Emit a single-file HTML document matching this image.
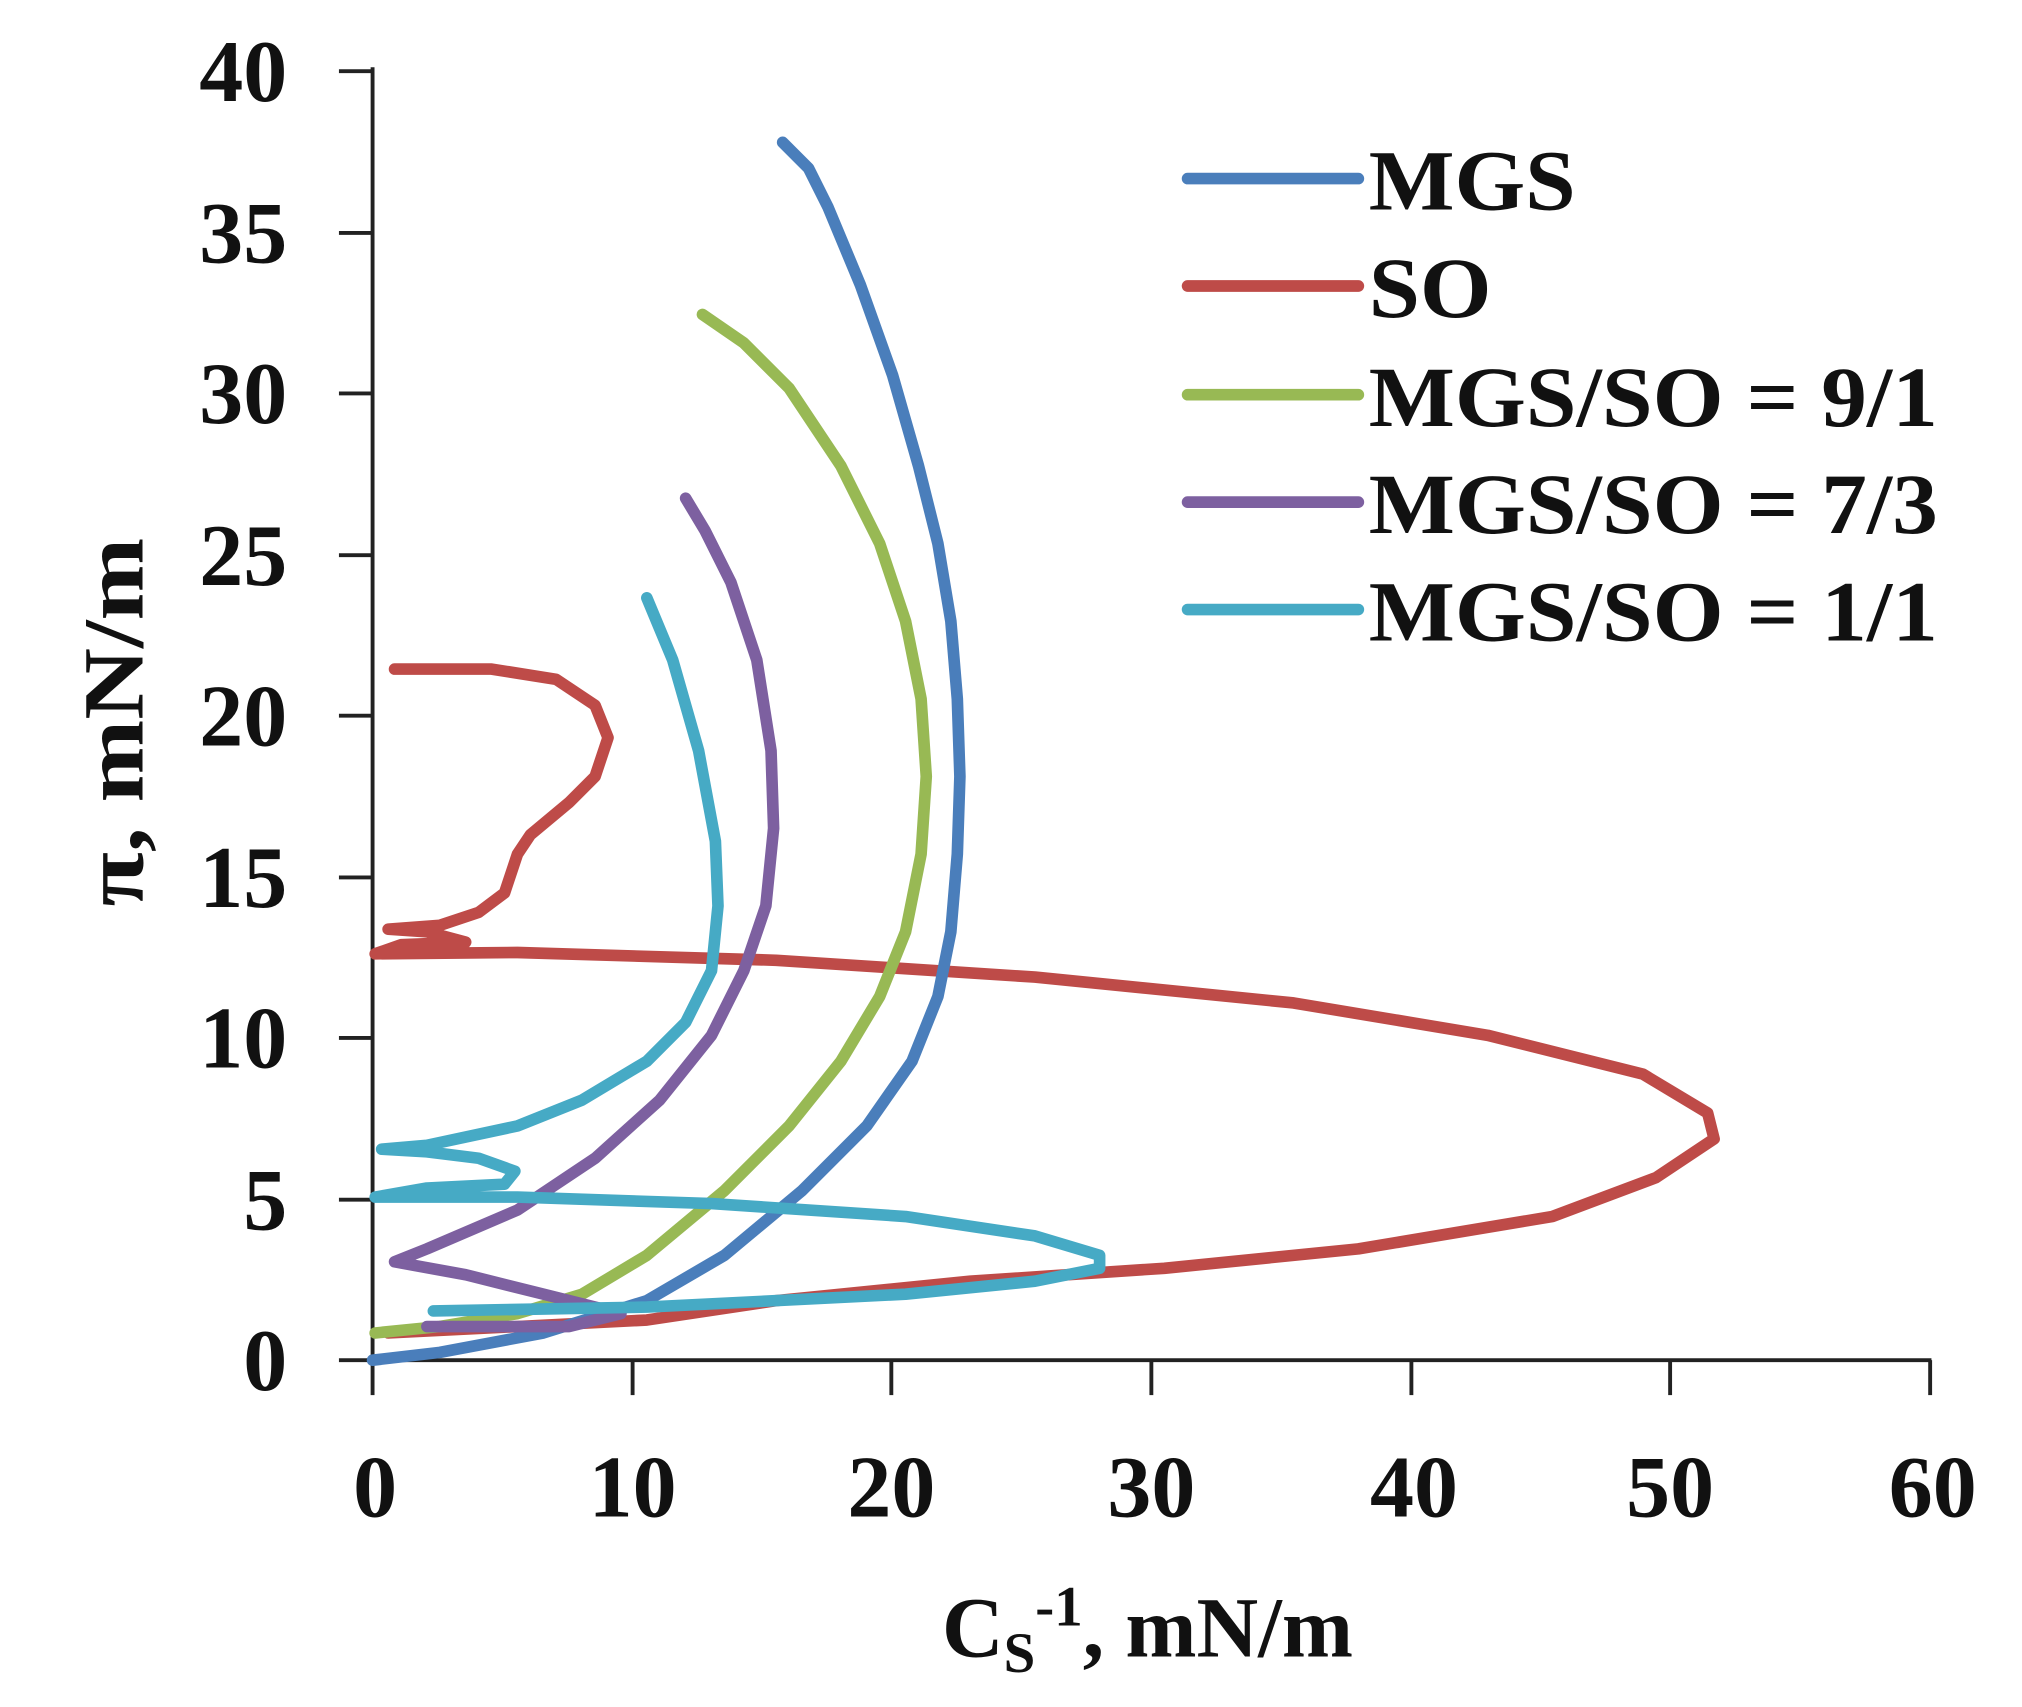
<!DOCTYPE html>
<html><head><style>html,body{margin:0;padding:0;background:#fff}svg{display:block}</style></head>
<body>
<svg width="2022" height="1707" viewBox="0 0 1563 1319" preserveAspectRatio="none" xmlns="http://www.w3.org/2000/svg" font-family="Liberation Serif, serif" font-weight="bold">
<g stroke="#222" stroke-width="3" fill="none">
<line x1="288" y1="52" x2="288" y2="1052"/>
<line x1="286" y1="1051" x2="1493" y2="1051"/>
<line x1="262" y1="55" x2="288" y2="55"/><line x1="262" y1="180" x2="288" y2="180"/><line x1="262" y1="304" x2="288" y2="304"/><line x1="262" y1="429" x2="288" y2="429"/><line x1="262" y1="553" x2="288" y2="553"/><line x1="262" y1="678" x2="288" y2="678"/><line x1="262" y1="802" x2="288" y2="802"/><line x1="262" y1="927" x2="288" y2="927"/><line x1="262" y1="1051" x2="288" y2="1051"/>
<line x1="288" y1="1051" x2="288" y2="1078"/><line x1="489" y1="1051" x2="489" y2="1078"/><line x1="689" y1="1051" x2="689" y2="1078"/><line x1="890" y1="1051" x2="890" y2="1078"/><line x1="1091" y1="1051" x2="1091" y2="1078"/><line x1="1291" y1="1051" x2="1291" y2="1078"/><line x1="1492" y1="1051" x2="1492" y2="1078"/>
</g>
<g font-size="68" fill="#111" text-anchor="end">
<text x="222" y="78">40</text><text x="222" y="203">35</text><text x="222" y="327">30</text><text x="222" y="452">25</text><text x="222" y="576">20</text><text x="222" y="701">15</text><text x="222" y="825">10</text><text x="222" y="950">5</text><text x="222" y="1074">0</text>
</g>
<g font-size="68" fill="#111" text-anchor="middle">
<text x="290" y="1172">0</text><text x="489" y="1172">10</text><text x="689" y="1172">20</text><text x="890" y="1172">30</text><text x="1093" y="1172">40</text><text x="1291" y="1172">50</text><text x="1494" y="1172">60</text>
<text x="887" y="1280" font-size="66">C<tspan font-size="44" dy="12">S</tspan><tspan font-size="44" dy="-36">-1</tspan><tspan dy="24">, mN/m</tspan></text>
<text transform="translate(110,558) rotate(-90)" font-size="66" textLength="285" lengthAdjust="spacingAndGlyphs">π, mN/m</text>
</g>
<g fill="none" stroke-width="9" stroke-linecap="round" stroke-linejoin="round">
<polyline stroke="#be4b48" points="300,1030 400,1025 500,1020 600,1005 750,990 900,980 1050,965 1200,940 1280,910 1325,880 1320,860 1270,830 1150,800 1000,775 800,755 600,742 400,736 290,737 310,730 360,728 330,720 300,718 340,715 370,705 390,690 400,660 410,645 440,620 460,600 470,570 460,545 430,525 380,517 305,517"/>
<polyline stroke="#4a7ebb" points="288,1051 340,1045 420,1030 500,1005 560,970 620,920 670,870 705,820 725,770 735,720 740,660 742,600 740,540 735,480 725,420 710,360 690,290 665,220 640,160 625,130 605,110"/>
<polyline stroke="#98b954" points="290,1030 340,1025 400,1015 450,1000 500,970 560,920 610,870 650,820 680,770 700,720 712,660 716,600 712,540 700,480 680,420 650,360 610,300 575,265 543,243"/>
<polyline stroke="#7d60a0" points="330,1025 440,1025 480,1015 420,1000 360,985 305,975 330,965 400,935 460,895 510,850 550,800 575,750 592,700 598,640 596,580 585,510 565,450 545,410 530,385"/>
<polyline stroke="#46aac5" points="335,1013 500,1010 700,1000 800,990 850,980 850,970 800,955 700,940 550,930 400,925 290,925 330,918 390,915 398,905 370,895 330,890 295,888 330,885 400,870 450,850 500,820 530,790 550,750 555,700 553,650 540,580 520,510 500,462"/>
</g>
<g stroke-width="9" stroke-linecap="round">
<line x1="918" y1="138" x2="1050" y2="138" stroke="#4a7ebb"/>
<line x1="918" y1="221" x2="1050" y2="221" stroke="#be4b48"/>
<line x1="918" y1="305" x2="1050" y2="305" stroke="#98b954"/>
<line x1="918" y1="388" x2="1050" y2="388" stroke="#7d60a0"/>
<line x1="918" y1="471" x2="1050" y2="471" stroke="#46aac5"/>
</g>
<g font-size="66" fill="#111">
<text x="1058" y="162" textLength="160" lengthAdjust="spacingAndGlyphs">MGS</text><text x="1058" y="245" textLength="95" lengthAdjust="spacingAndGlyphs">SO</text><text x="1058" y="329" textLength="440" lengthAdjust="spacingAndGlyphs">MGS/SO = 9/1</text><text x="1058" y="412" textLength="440" lengthAdjust="spacingAndGlyphs">MGS/SO = 7/3</text><text x="1058" y="495" textLength="440" lengthAdjust="spacingAndGlyphs">MGS/SO = 1/1</text>
</g>
</svg>
</body></html>
